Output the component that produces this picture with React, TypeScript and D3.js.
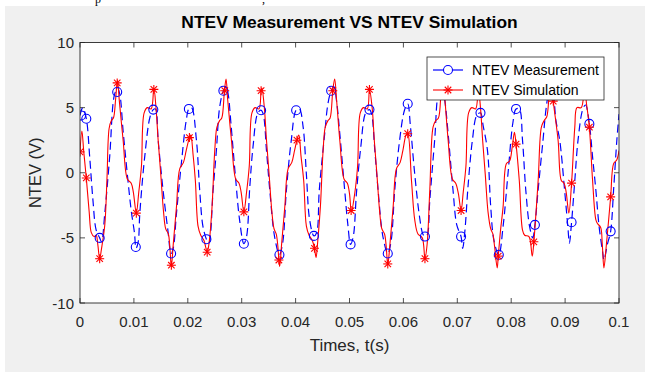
import React from "react";
import * as d3 from "d3";

// time in ms, voltage in V
const simData: [number, number][] = [
  [0.0,1.6],[0.35,3.2],[0.7,1.6],[1.17,-0.4],[1.7,-3.0],[2.1,-4.6],[2.6,-4.9],[3.0,-4.8],[3.3,-5.5],[3.65,-6.6],[4.0,-5.8],[4.6,-4.0],[5.0,-0.5],[5.4,3.4],[5.8,4.0],[6.2,4.2],[6.6,5.6],[6.95,7.1],[7.3,5.5],[8.0,2.5],[8.8,-0.5],[9.5,-0.8],[9.9,-1.5],[10.45,-3.1],[10.9,-1.5],[11.4,0.5],[11.9,4.6],[12.5,5.0],[13.2,4.9],[13.7,6.5],[14.1,5.0],[14.5,2.5],[15.0,-0.2],[15.5,-3.0],[15.9,-4.3],[16.4,-4.7],[16.65,-5.6],[16.95,-7.2],[17.3,-5.5],[17.9,-2.6],[18.5,0.3],[19.2,0.8],[19.7,1.7],
  [20.3,2.7],[20.55,2.9],[21.0,1.3],[21.4,-0.6],[21.9,-4.1],[22.4,-4.8],[23.0,-5.2],[23.6,-6.1],[24.0,-5.2],[24.5,-2.6],[25.0,1.7],[25.4,3.5],[25.9,4.0],[26.3,4.2],[26.8,6.3],[27.1,7.2],[27.4,5.6],[28.1,2.5],[28.9,-0.5],[29.5,-0.8],[29.9,-1.5],[30.4,-3.0],[30.9,-1.5],[31.4,0.5],[31.9,4.6],[32.5,5.0],[33.2,4.9],[33.6,6.3],[33.75,6.5],[34.2,5.0],[34.6,2.5],[35.1,-0.2],[35.6,-3.0],[36.0,-4.3],[36.4,-4.7],[36.7,-5.6],[36.9,-6.7],[37.05,-7.2],[37.4,-5.5],[38.0,-2.6],[38.6,0.3],[39.3,0.8],[39.8,1.7],
  [40.25,2.5],[40.6,2.9],[41.0,1.3],[41.5,-0.6],[42.0,-4.1],[42.5,-4.8],[43.1,-5.2],[43.5,-5.8],[43.8,-6.5],[44.1,-5.3],[44.6,-2.6],[45.1,1.7],[45.5,3.5],[46.0,4.0],[46.4,4.2],[46.9,6.3],[47.25,7.2],[47.6,5.6],[48.2,2.5],[49.0,-0.5],[49.6,-0.8],[50.0,-1.6],[50.35,-3.0],[51.0,-1.5],[51.5,0.5],[52.0,4.6],[52.6,5.0],[53.3,4.9],[53.7,6.4],[54.2,5.0],[54.6,2.5],[55.1,-0.2],[55.6,-3.0],[56.0,-4.3],[56.5,-4.7],[56.8,-5.6],[57.1,-7.1],[57.5,-5.5],[58.1,-2.6],[58.7,0.3],[59.4,0.8],[59.9,1.7],
  [60.5,2.9],[60.8,3.0],[61.5,-0.6],[62.1,-3.6],[62.7,-4.7],[63.5,-5.0],[64.0,-6.6],[64.4,-5.5],[64.9,-1.3],[65.5,3.5],[66.0,4.0],[66.5,4.2],[67.0,6.3],[67.3,7.2],[67.7,5.6],[68.3,2.5],[69.1,-0.5],[69.7,-0.8],[70.2,-1.6],[70.7,-2.9],[71.1,-1.5],[71.6,0.5],[72.1,4.6],[72.7,5.0],[73.4,4.9],[73.9,6.4],[74.3,5.0],[74.7,2.5],[75.2,-0.2],[75.7,-3.0],[76.2,-4.3],[76.6,-4.7],[76.9,-5.6],[77.4,-7.3],[77.6,-6.4],[78.0,-4.5],[78.5,-2.6],[79.1,0.7],[79.7,0.9],
  [80.2,2.0],[80.6,3.1],[80.9,2.2],[81.5,-0.6],[82.1,-4.4],[82.5,-4.8],[83.3,-4.9],[83.9,-6.4],[84.2,-5.3],[85.0,-0.6],[85.6,3.5],[86.1,4.0],[86.6,4.3],[87.1,6.3],[87.45,7.0],[87.8,5.5],[88.7,2.5],[89.3,-0.6],[89.8,-0.8],[90.2,-1.5],[90.7,-3.1],[91.2,-0.8],[91.8,3.5],[92.2,5.0],[93.0,5.0],[93.6,6.4],[94.0,5.2],[94.5,3.5],[95.1,-0.6],[95.7,-3.6],[96.0,-3.9],[96.6,-4.2],[96.9,-5.5],[97.2,-7.3],[97.6,-5.8],[98.45,-1.85],[99.0,0.7],[99.6,1.0],[100,1.7]
];

const simMarkers: [number, number][] = [
  [0,1.6],[1.17,-0.4],[3.65,-6.6],[6.9,6.9],[10.45,-3.1],[13.7,6.4],[16.95,-7.1],[20.3,2.7],[23.6,-6.1],[26.85,6.3],[30.4,-3.0],[33.6,6.3],[36.9,-6.7],[40.25,2.5],[43.5,-5.8],[46.9,6.3],[50.3,-2.9],[53.7,6.4],[57.1,-7.0],[60.8,3.0],[64.0,-6.6],[67.35,6.8],[70.7,-2.9],[74.0,6.2],[77.6,-6.4],[80.9,2.2],[84.2,-5.3],[87.8,5.5],[91.2,-0.8],[94.5,3.5],[98.45,-1.85]
];

const measData: [number, number][] = [
  [0.0,4.4],[0.5,5.0],[1.17,4.15],[1.8,1.2],[2.4,-2.1],[3.0,-4.4],[3.65,-5.0],[4.0,-5.3],[4.6,-3.1],[5.5,1.2],[6.4,6.0],[7.0,6.5],[7.4,6.0],[8.0,3.2],[8.9,-0.6],[9.5,-2.9],[10.1,-4.6],[10.4,-5.8],[10.8,-5.3],[11.1,-3.1],[12.0,1.2],[13.0,4.3],[13.6,4.85],[14.0,4.9],[14.5,2.5],[15.4,-1.3],[16.3,-4.4],[16.9,-6.2],[17.3,-5.8],[17.9,-3.1],[18.8,0.7],[19.7,4.0],
  [20.2,4.9],[20.7,5.0],[21.6,2.5],[22.2,-1.3],[22.8,-4.1],[23.45,-5.1],[23.9,-5.4],[24.7,-1.3],[25.3,1.7],[25.9,5.0],[26.6,6.3],[27.1,6.6],[27.5,6.0],[28.0,3.8],[28.9,-0.6],[29.6,-3.6],[30.4,-5.45],[30.9,-4.9],[31.5,-1.1],[32.1,2.0],[33.0,4.6],[33.6,4.8],[34.0,4.5],[34.6,1.7],[35.2,-1.3],[36.1,-4.9],[37.0,-6.3],[37.6,-5.4],[38.3,-1.3],[39.2,2.5],[40.1,4.8],
  [40.7,4.9],[41.4,3.5],[42.0,-0.1],[42.6,-3.6],[43.4,-4.85],[43.9,-4.6],[44.4,-1.3],[45.4,3.0],[46.0,5.3],[46.6,6.3],[47.1,6.6],[47.6,5.5],[48.2,3.0],[49.1,-1.3],[49.7,-4.0],[50.2,-5.5],[50.7,-4.9],[51.3,-1.5],[52.1,2.0],[53.0,4.6],[53.7,4.85],[54.1,4.5],[54.7,1.7],[55.3,-1.3],[56.2,-4.9],[57.1,-6.2],[57.7,-5.3],[58.4,-1.3],[59.3,2.5],[60.2,4.8],
  [60.8,5.3],[61.3,3.6],[62.1,-0.1],[63.0,-3.4],[63.6,-4.7],[64.0,-4.9],[64.4,-4.8],[64.9,-2.1],[65.8,2.5],[66.6,6.3],[67.2,6.6],[67.7,5.5],[68.3,3.0],[69.2,-1.3],[69.9,-4.0],[70.7,-4.9],[71.0,-5.8],[71.4,-4.5],[72.0,-1.0],[72.8,2.5],[73.6,4.4],[74.3,4.6],[74.8,3.6],[75.6,1.7],[76.2,-2.6],[76.8,-5.2],[77.7,-6.3],[78.5,-4.1],[79.4,-0.1],[80.3,3.8],
  [80.9,4.9],[81.5,4.9],[82.1,2.5],[82.7,-1.3],[83.4,-4.1],[84.0,-5.0],[84.4,-4.0],[85.0,-1.3],[85.9,2.5],[86.5,5.0],[87.2,6.6],[87.8,6.0],[88.3,4.0],[89.0,2.5],[89.9,-1.3],[90.5,-4.1],[90.8,-5.4],[91.2,-3.8],[91.8,-0.6],[92.4,2.5],[93.3,4.9],[93.8,5.2],[94.5,3.75],[95.1,1.2],[95.7,-1.3],[96.3,-4.1],[97.0,-6.2],[97.2,-6.7],[97.9,-5.4],[98.45,-4.5],[99.0,-1.3],[99.6,2.5],[100,4.5]
];

const measMarkers: [number, number][] = [
  [0.2,4.4],[1.17,4.15],[3.65,-5.0],[6.9,6.2],[10.35,-5.7],[13.6,4.85],[16.9,-6.2],[20.2,4.9],[23.45,-5.1],[26.6,6.3],[30.4,-5.45],[33.6,4.8],[37.0,-6.3],[40.1,4.8],[43.4,-4.85],[46.6,6.3],[50.2,-5.5],[53.7,4.85],[57.1,-6.2],[60.8,5.3],[64.0,-4.9],[67.3,6.4],[70.7,-4.9],[74.3,4.6],[77.7,-6.3],[80.9,4.9],[84.4,-4.0],[87.8,6.0],[91.2,-3.8],[94.5,3.75],[98.45,-4.5]
];

const xTicks = [0, 10, 20, 30, 40, 50, 60, 70, 80, 90, 100];
const xTickLabels = ["0", "0.01", "0.02", "0.03", "0.04", "0.05", "0.06", "0.07", "0.08", "0.09", "0.1"];
const yTicks = [-10, -5, 0, 5, 10];
const yTickLabels = ["-10", "-5", "0", "5", "10"];
const seriesNames = ["NTEV Measurement", "NTEV Simulation"];

const FONT = "'Liberation Sans', Arial, Helvetica, sans-serif";
const AX = "#262626";
const W = 649, H = 373;
const L = 80, R = 619, T = 42.5, B = 303;

function Star({ x, y, r, color }: { x: number; y: number; r: number; color: string }) {
  const d = r * 0.72;
  return (
    <g stroke={color} strokeWidth={1.1}>
      <line x1={x - r} y1={y} x2={x + r} y2={y} />
      <line x1={x} y1={y - r} x2={x} y2={y + r} />
      <line x1={x - d} y1={y - d} x2={x + d} y2={y + d} />
      <line x1={x - d} y1={y + d} x2={x + d} y2={y - d} />
    </g>
  );
}

export default function App() {
  const x = d3.scaleLinear().domain([0, 100]).range([L, R]);
  const y = d3.scaleLinear().domain([-10, 10]).range([B, T]);
  const line = d3
    .line<[number, number]>()
    .x((d) => x(d[0]))
    .y((d) => y(d[1]))
    .curve(d3.curveCatmullRom.alpha(0.5));

  const lx = 427, ly = 57, lw = 177, lh = 43;

  return (
    <div style={{ position: "fixed", left: 0, top: 0 }}>
      <svg width={W} height={H} style={{ display: "block", background: "#fff" }}>
        <defs>
          <clipPath id="plot">
            <rect x={L} y={T} width={R - L} height={B - T} />
          </clipPath>
        </defs>
        <text x={95} y={3} fontFamily="'Liberation Serif', 'Times New Roman', serif" fontSize={12} fill="#000">p</text>
        <text x={262} y={3} fontFamily="'Liberation Serif', 'Times New Roman', serif" fontSize={12} fill="#000">,</text>
        <rect x={5} y={6} width={640} height={366} fill="#f0f0f0" />
        <rect x={L} y={T} width={R - L} height={B - T} fill="#fff" />

        <g clipPath="url(#plot)">
          <path d={line(measData) || ""} fill="none" stroke="#0000ff" strokeWidth={1.2} strokeDasharray="8,4.5" />
          <path d={line(simData) || ""} fill="none" stroke="#ff0000" strokeWidth={1.1} />
          {measMarkers.map((d, i) => (
            <circle key={"m" + i} cx={x(d[0])} cy={y(d[1])} r={4.5} fill="none" stroke="#0000ff" strokeWidth={1.1} />
          ))}
          {simMarkers.map((d, i) => (
            <Star key={"s" + i} x={x(d[0])} y={y(d[1])} r={4.5} color="#ff0000" />
          ))}
        </g>

        {/* ticks */}
        <g stroke={AX} strokeWidth={0.8}>
          {xTicks.map((t) => (
            <g key={"xt" + t}>
              <line x1={x(t)} x2={x(t)} y1={B} y2={B - 5} />
              <line x1={x(t)} x2={x(t)} y1={T} y2={T + 5} />
            </g>
          ))}
          {yTicks.map((t) => (
            <g key={"yt" + t}>
              <line x1={L} x2={L + 5} y1={y(t)} y2={y(t)} />
              <line x1={R} x2={R - 5} y1={y(t)} y2={y(t)} />
            </g>
          ))}
        </g>
        <rect x={L} y={T} width={R - L} height={B - T} fill="none" stroke={AX} strokeWidth={0.9} />

        {/* tick labels */}
        <g fontFamily={FONT} fontSize={15} fill={AX}>
          {xTicks.map((t, i) => (
            <text key={"xl" + t} x={x(t)} y={B + 24} textAnchor="middle">{xTickLabels[i]}</text>
          ))}
          {yTicks.map((t, i) => (
            <text key={"yl" + t} x={L - 6} y={y(t) + 5.5} textAnchor="end">{yTickLabels[i]}</text>
          ))}
        </g>

        <text x={(L + R) / 2} y={28} textAnchor="middle" fontFamily={FONT} fontSize={17.4} fontWeight="bold" fill="#000">
          NTEV Measurement VS NTEV Simulation
        </text>
        <text x={(L + R) / 2} y={351} textAnchor="middle" fontFamily={FONT} fontSize={17} fill={AX}>
          Times, t(s)
        </text>
        <text transform={`translate(41, ${(T + B) / 2}) rotate(-90)`} textAnchor="middle" fontFamily={FONT} fontSize={16.5} fill={AX}>
          NTEV (V)
        </text>

        {/* legend */}
        <rect x={lx} y={ly} width={lw} height={lh} fill="#fff" stroke={AX} strokeWidth={0.8} />
        <line x1={lx + 6} x2={lx + 36} y1={ly + 13} y2={ly + 13} stroke="#0000ff" strokeWidth={1.2} />
        <circle cx={lx + 21} cy={ly + 13} r={4.5} fill="#fff" stroke="#0000ff" strokeWidth={1.1} />
        <line x1={lx + 6} x2={lx + 36} y1={ly + 33} y2={ly + 33} stroke="#ff0000" strokeWidth={1.1} />
        <Star x={lx + 21} y={ly + 33} r={4.5} color="#ff0000" />
        <g fontFamily={FONT} fontSize={14} fill="#000">
          <text x={lx + 45} y={ly + 18}>{seriesNames[0]}</text>
          <text x={lx + 45} y={ly + 38}>{seriesNames[1]}</text>
        </g>
      </svg>
    </div>
  );
}
